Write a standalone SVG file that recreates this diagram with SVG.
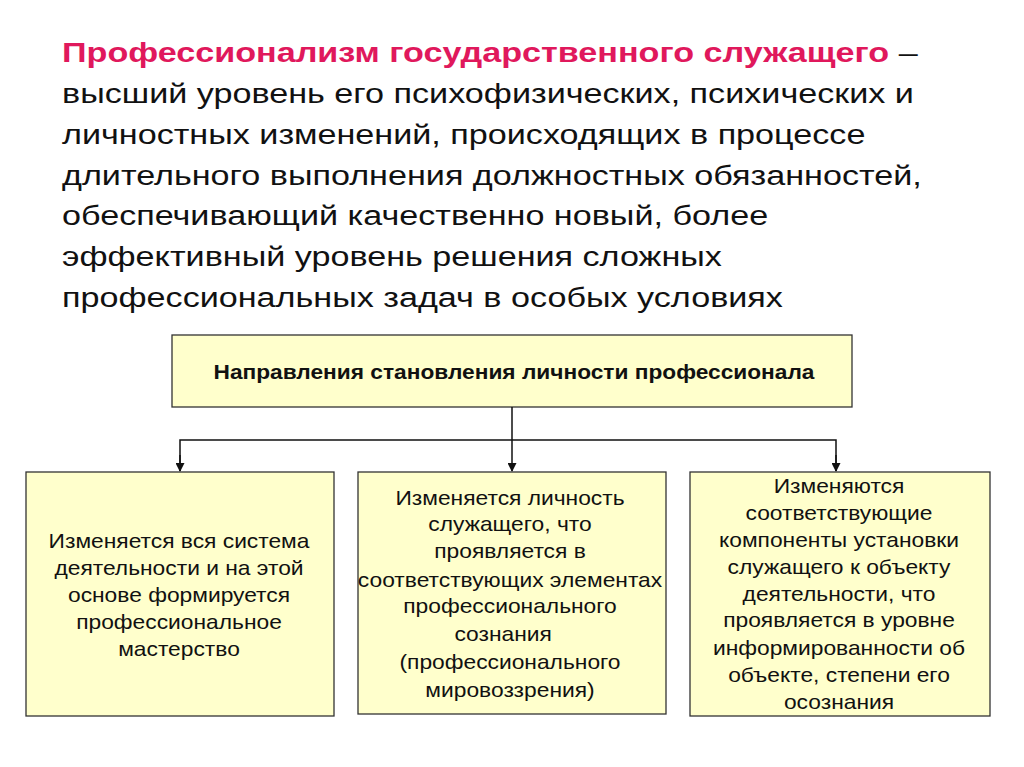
<svg xmlns="http://www.w3.org/2000/svg" width="1024" height="767" viewBox="0 0 1024 767">
<style>
.t{font-family:"Liberation Sans",Arial,sans-serif;font-size:28px;fill:#111}
.b{font-family:"Liberation Sans",Arial,sans-serif;font-size:20px;fill:#111;text-anchor:middle}
.box{fill:#ffffcc;stroke:#333;stroke-width:1.3}
.c{stroke:#111;stroke-width:1.5;fill:none}
</style>
<defs><marker id="a" markerWidth="9" markerHeight="9" refX="8" refY="4.5" orient="auto" markerUnits="userSpaceOnUse"><path d="M0,0 L9,4.5 L0,9 Z" fill="#111"/></marker></defs>
<rect width="1024" height="767" fill="#fff"/>
<g id="definition" transform="translate(62,0) scale(1.22,1)">
<text class="t" x="0" y="62"><tspan font-weight="bold" fill="#e0185c">Профессионализм государственного служащего</tspan> –</text>
<text class="t" x="0" y="103">высший уровень его психофизических, психических и</text>
<text class="t" x="0" y="144">личностных изменений, происходящих в процессе</text>
<text class="t" x="0" y="185">длительного выполнения должностных обязанностей,</text>
<text class="t" x="0" y="225">обеспечивающий качественно новый, более</text>
<text class="t" x="0" y="266">эффективный уровень решения сложных</text>
<text class="t" x="0" y="307">профессиональных задач в особых условиях</text>
</g>
<g id="header">
<rect class="box" x="172" y="335" width="680" height="72"/>
<text x="514" y="379" text-anchor="middle" font-family="Liberation Sans Narrow,Liberation Sans,Arial,sans-serif" font-weight="bold" font-size="21" fill="#111" textLength="601" lengthAdjust="spacingAndGlyphs">Направления становления личности профессионала</text>
</g>
<g id="connectors">
<path class="c" d="M512,407 V471" marker-end="url(#a)"/>
<path class="c" d="M180,471 V440 H836 V471"/>
<path class="c" d="M180,455 V471" marker-end="url(#a)"/>
<path class="c" d="M836,455 V471" marker-end="url(#a)"/>
</g>
<g id="box1">
<rect class="box" x="26" y="472" width="308" height="244"/>
<text class="b" transform="translate(179,0) scale(1.14,1)"><tspan x="0" y="548">Изменяется вся система</tspan><tspan x="0" y="575">деятельности и на этой</tspan><tspan x="0" y="602">основе формируется</tspan><tspan x="0" y="629">профессиональное</tspan><tspan x="0" y="656">мастерство</tspan></text>
</g>
<g id="box2">
<rect class="box" x="358" y="472" width="308" height="242"/>
<text class="b" transform="translate(510,0) scale(1.14,1)"><tspan x="0" y="505">Изменяется личность</tspan><tspan x="0" y="531">служащего, что</tspan><tspan x="0" y="558">проявляется в</tspan><tspan x="0" y="587">соответствующих элементах</tspan><tspan x="0" y="613">профессионального</tspan><tspan x="-6" y="641">сознания</tspan><tspan x="0" y="669">(профессионального</tspan><tspan x="0" y="697">мировоззрения)</tspan></text>
</g>
<g id="box3">
<rect class="box" x="690" y="472" width="300" height="244"/>
<text class="b" transform="translate(839,0) scale(1.14,1)"><tspan x="0" y="493">Изменяются</tspan><tspan x="0" y="520">соответствующие</tspan><tspan x="0" y="547">компоненты установки</tspan><tspan x="0" y="574">служащего к объекту</tspan><tspan x="0" y="601">деятельности, что</tspan><tspan x="0" y="627">проявляется в уровне</tspan><tspan x="0" y="655">информированности  об</tspan><tspan x="0" y="682">объекте, степени его</tspan><tspan x="0" y="709">осознания</tspan></text>
</g>
</svg>
